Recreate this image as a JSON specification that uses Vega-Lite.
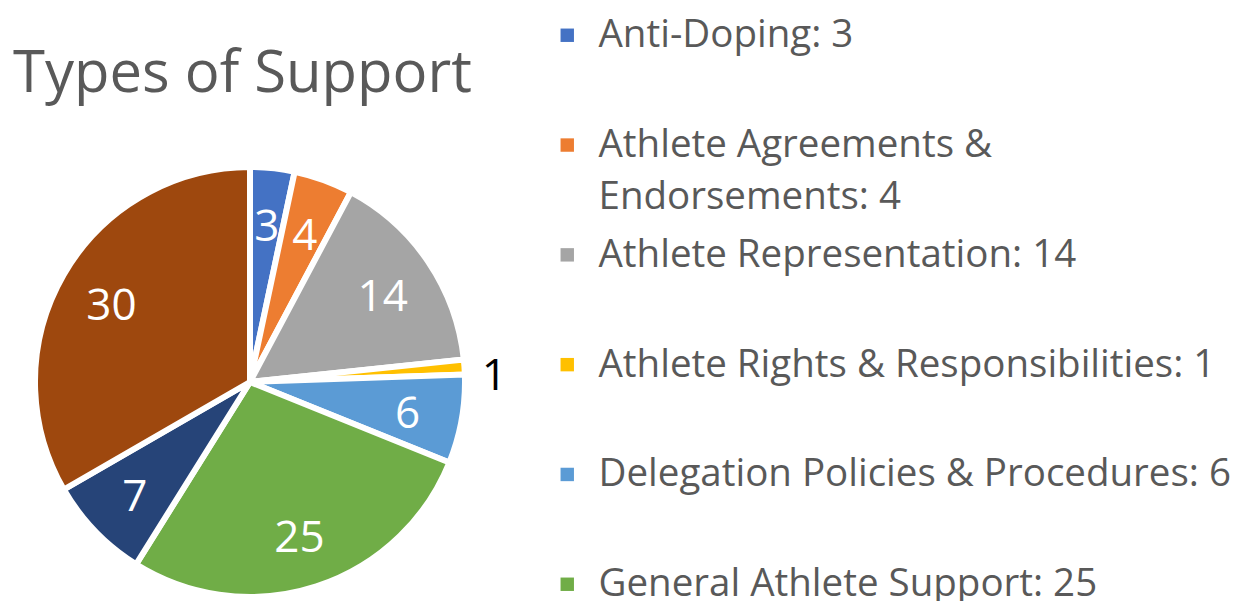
{
  "$schema": "https://vega.github.io/schema/vega-lite/v6.json",
  "autosize": {"type": "none"},
  "width": 430,
  "height": 430,
  "padding": {"left": 35, "top": 167, "right": 772, "bottom": 4},
  "background": "white",
  "title": {
    "text": "Types of Support",
    "anchor": "start",
    "orient": "top",
    "fontSize": 58,
    "font": "Open Sans",
    "fontWeight": "normal",
    "color": "#595959",
    "baseline": "alphabetic",
    "offset": -134,
    "dx": -10
  },
  "data": {
    "values": [
      {"type": "Anti-Doping", "count": 3, "legend": "Anti-Doping: 3"},
      {"type": "Athlete Agreements & Endorsements", "count": 4, "legend": "Athlete Agreements & Endorsements: 4"},
      {"type": "Athlete Representation", "count": 14, "legend": "Athlete Representation: 14"},
      {"type": "Athlete Rights & Responsibilities", "count": 1, "legend": "Athlete Rights & Responsibilities: 1"},
      {"type": "Delegation Policies & Procedures", "count": 6, "legend": "Delegation Policies & Procedures: 6"},
      {"type": "General Athlete Support", "count": 25, "legend": "General Athlete Support: 25"},
      {"type": "SafeSport", "count": 7, "legend": "SafeSport: 7"},
      {"type": "Team Selection", "count": 30, "legend": "Team Selection: 30"}
    ]
  },
  "encoding": {
    "theta": {"field": "count", "type": "quantitative", "stack": true},
    "order": {"field": "legend", "type": "nominal", "sort": "ascending"}
  },
  "layer": [
    {
      "mark": {"type": "arc", "stroke": "white", "strokeWidth": 6},
      "encoding": {
        "color": {
          "field": "legend",
          "type": "nominal",
          "scale": {
            "domain": ["Anti-Doping: 3", "Athlete Agreements & Endorsements: 4", "Athlete Representation: 14", "Athlete Rights & Responsibilities: 1", "Delegation Policies & Procedures: 6", "General Athlete Support: 25", "SafeSport: 7", "Team Selection: 30"],
            "range": ["#4472C4", "#ED7D31", "#A5A5A5", "#FFC000", "#5B9BD5", "#70AD47", "#264478", "#9E480E"]
          },
          "legend": {
            "title": null,
            "orient": "none",
            "legendX": 513,
            "legendY": -151,
            "padding": 0,
            "symbolType": "square",
            "symbolSize": 180,
            "symbolStrokeWidth": 0,
            "labelFont": "Open Sans",
            "labelFontSize": 38.5,
            "labelColor": "#595959",
            "labelLimit": 900,
            "labelOffset": 12,
            "rowPadding": 18.8,
            "gridAlign": "all",
            "labelExpr": "split(replace(datum.label, '& Endorsements', '&|Endorsements'), '|')"
          }
        }
      }
    },
    {
      "mark": {"type": "text", "radius": 160, "font": "Open Sans", "fontSize": 44, "color": "white", "dy": 5},
      "encoding": {
        "detail": {"field": "legend", "type": "nominal"},
        "text": {"field": "count", "type": "quantitative", "condition": {"test": "datum.count < 2", "value": ""}}
      }
    },
    {
      "mark": {"type": "text", "radius": 245, "font": "Open Sans", "fontSize": 44, "color": "black", "dy": 12},
      "encoding": {
        "detail": {"field": "legend", "type": "nominal"},
        "text": {"field": "count", "type": "quantitative", "condition": {"test": "datum.count >= 2", "value": ""}}
      }
    }
  ],
  "config": {
    "view": {"stroke": null},
    "style": {"guide-label": {"lineHeight": 52}}
  }
}
